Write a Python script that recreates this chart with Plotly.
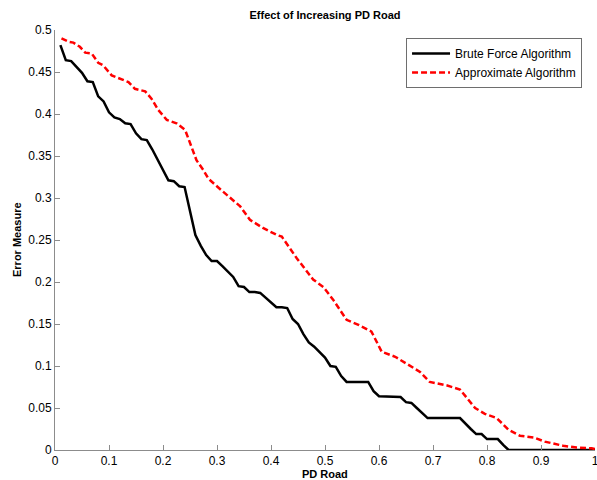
import plotly.graph_objects as go

brute_x = [0.01, 0.02, 0.03, 0.04, 0.05, 0.06, 0.07, 0.08, 0.09, 0.10,
           0.11, 0.12, 0.13, 0.14, 0.15, 0.16, 0.17, 0.18, 0.19, 0.20,
           0.21, 0.22, 0.23, 0.24, 0.25, 0.26, 0.27, 0.28, 0.29, 0.30,
           0.31, 0.32, 0.33, 0.34, 0.35, 0.36, 0.37, 0.38, 0.39, 0.40,
           0.41, 0.42, 0.43, 0.44, 0.45, 0.46, 0.47, 0.48, 0.49, 0.50,
           0.51, 0.52, 0.53, 0.54, 0.58, 0.59, 0.60, 0.64, 0.65, 0.66,
           0.67, 0.68, 0.69, 0.75, 0.76, 0.77, 0.78, 0.79, 0.80, 0.82,
           0.83, 0.84, 1.00]
brute_y = [0.482, 0.464, 0.463, 0.456, 0.449, 0.439, 0.438, 0.421, 0.415, 0.402,
           0.396, 0.394, 0.389, 0.388, 0.377, 0.370, 0.369, 0.358, 0.345, 0.332,
           0.321, 0.320, 0.314, 0.313, 0.285, 0.256, 0.243, 0.232, 0.225, 0.225,
           0.219, 0.212, 0.206, 0.195, 0.194, 0.188, 0.188, 0.187, 0.181, 0.175,
           0.170, 0.170, 0.169, 0.156, 0.150, 0.138, 0.128, 0.123, 0.117, 0.110,
           0.100, 0.099, 0.088, 0.081, 0.081, 0.070, 0.064, 0.063, 0.057, 0.056,
           0.050, 0.044, 0.038, 0.038, 0.031, 0.025, 0.019, 0.019, 0.013, 0.013,
           0.006, 0.000, 0.000]

approx_x = [0.012, 0.025, 0.034, 0.046, 0.056, 0.068, 0.080, 0.089, 0.105, 0.120,
            0.136, 0.148, 0.167, 0.179, 0.191, 0.207, 0.225, 0.241, 0.262, 0.275,
            0.284, 0.305, 0.324, 0.343, 0.361, 0.386, 0.411, 0.420, 0.448, 0.478,
            0.497, 0.515, 0.540, 0.562, 0.586, 0.605, 0.630, 0.657, 0.676, 0.694,
            0.725, 0.750, 0.778, 0.796, 0.818, 0.840, 0.861, 0.886, 0.907, 0.941,
            0.966, 0.994, 1.000]
approx_y = [0.490, 0.486, 0.485, 0.480, 0.473, 0.472, 0.461, 0.458, 0.446, 0.442,
            0.438, 0.430, 0.427, 0.418, 0.405, 0.393, 0.389, 0.381, 0.345, 0.333,
            0.323, 0.311, 0.300, 0.290, 0.274, 0.264, 0.256, 0.254, 0.228, 0.203,
            0.194, 0.179, 0.155, 0.149, 0.141, 0.117, 0.111, 0.101, 0.093, 0.081,
            0.077, 0.072, 0.050, 0.043, 0.038, 0.024, 0.017, 0.015, 0.010, 0.005,
            0.003, 0.002, 0.001]

x_ticks = [0, 0.1, 0.2, 0.3, 0.4, 0.5, 0.6, 0.7, 0.8, 0.9, 1]
x_labels = ["0", "0.1", "0.2", "0.3", "0.4", "0.5", "0.6", "0.7", "0.8", "0.9", "1"]
y_ticks = [0, 0.05, 0.1, 0.15, 0.2, 0.25, 0.3, 0.35, 0.4, 0.45, 0.5]
y_labels = ["0", "0.05", "0.1", "0.15", "0.2", "0.25", "0.3", "0.35", "0.4", "0.45", "0.5"]

FONT = "Liberation Sans, Arial, sans-serif"

fig = go.Figure()
fig.add_trace(go.Scatter(x=brute_x, y=brute_y, mode="lines", name="Brute Force Algorithm",
                         line=dict(color="black", width=2.5), cliponaxis=False))
fig.add_trace(go.Scatter(x=approx_x, y=approx_y, mode="lines", name="Approximate Algorithm",
                         line=dict(color="red", width=2.5, dash="6px,3px"), cliponaxis=False))

axis_common = dict(showline=True, linecolor="#8c8c8c", linewidth=1, ticks="inside",
                   ticklen=5, tickcolor="#8c8c8c", showgrid=False, zeroline=False,
                   tickfont=dict(family=FONT, size=12, color="black"), mirror=False,
                   automargin=False, ticklabeloverflow="allow")

fig.update_layout(
    width=597, height=480,
    margin=dict(l=55, r=2, t=30, b=30, autoexpand=False),
    paper_bgcolor="white", plot_bgcolor="white",
    title=dict(text="<b>Effect of Increasing PD Road</b>", x=325/597, xanchor="center",
               y=1 - 15/480, yanchor="middle", font=dict(family=FONT, size=11, color="black")),
    xaxis=dict(range=[0, 1], tickvals=x_ticks, ticktext=x_labels, **axis_common),
    yaxis=dict(range=[0, 0.5], tickvals=y_ticks, ticktext=y_labels, **axis_common),
    legend=dict(x=0.976, y=0.981, xanchor="right", yanchor="top",
                bgcolor="white", bordercolor="#6e6e6e", borderwidth=1,
                font=dict(family=FONT, size=12, color="black"),
                tracegroupgap=0, itemwidth=38),
    showlegend=True,
    annotations=[
        dict(text="<b>PD Road</b>", xref="paper", yref="paper", x=0.5, y=-24/420,
             xanchor="center", yanchor="middle", showarrow=False,
             font=dict(family=FONT, size=11, color="black")),
        dict(text="<b>Error Measure</b>", xref="paper", yref="paper", x=-38/540, y=0.5,
             xanchor="center", yanchor="middle", showarrow=False, textangle=-90,
             font=dict(family=FONT, size=11, color="black")),
    ],
)

fig.write_html("out.html", config={"displayModeBar": False},
               post_script="document.body.style.margin='0';document.body.style.padding='0';document.body.style.overflow='hidden';")
